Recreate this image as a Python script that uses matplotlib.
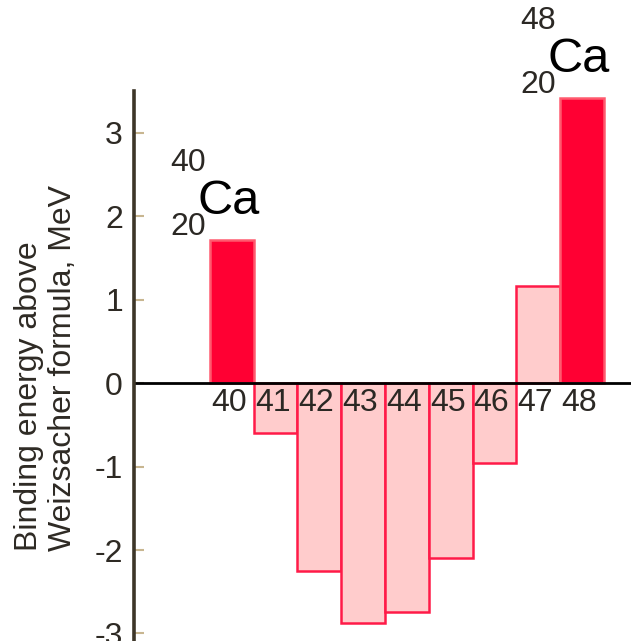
import numpy as np
from matplotlib import pyplot as plt

plt.rcParams['font.family'] = ['Liberation Sans', 'DejaVu Sans']

# mass numbers of the calcium isotopes and their extra binding energy (MeV)
mass_numbers = [40, 41, 42, 43, 44, 45, 46, 47, 48]
extra_binding = [1.72, -0.60, -2.25, -2.88, -2.74, -2.09, -0.96, 1.16, 3.42]
magic = [True, False, False, False, False, False, False, False, True]
y_ticks = [3, 2, 1, 0, -1, -2, -3]
y_tick_labels = ['3', '2', '1', '0', '-1', '-2', '-3']

W, H = 631, 641
fig = plt.figure(figsize=(W / 100, H / 100), dpi=100)
ax = fig.add_axes([134 / W, 0, (W - 134) / W, 550 / H])

red = '#ff0033'
pink = '#ffcccc'

fill = [red if m else pink for m in magic]
edge = ['#ff5a6e' if m else '#ff1a48' for m in magic]
ax.bar(mass_numbers, extra_binding, width=1.0, color=fill, edgecolor=edge,
       linewidth=1.8, zorder=2)

ax.axhline(0, color='black', linewidth=2.0, zorder=3)

ax.set_xlim(37.765, 49.12)
ax.set_ylim(-3.09, 3.50)

# only the vertical axis is drawn
for side in ['top', 'right', 'bottom']:
    ax.spines[side].set_visible(False)
ax.spines['left'].set_color('#3d3629')
ax.spines['left'].set_linewidth(2.6)
ax.spines['left'].set_zorder(4)

ax.set_xticks([])
ax.set_yticks(y_ticks)
ax.set_yticklabels(y_tick_labels)
ax.tick_params(axis='y', direction='in', length=7.5, width=1.5,
               color='#c8b690', labelsize=23, labelcolor='#2e2a24', pad=8)

# mass numbers written just under the zero line
for a in mass_numbers:
    ax.annotate(str(a), xy=(a, 0), xytext=(-3, -20), textcoords='offset pixels',
                ha='center', va='center', fontsize=23, color='#2b2824', zorder=5)

# isotope symbols over the two doubly-magic nuclei
for a, v, m in zip(mass_numbers, extra_binding, magic):
    if not m:
        continue
    ax.annotate(str(a), xy=(a, v), xytext=(-26, 77), textcoords='offset pixels',
                ha='right', va='center', fontsize=23, color='#2b2824')
    ax.annotate('20', xy=(a, v), xytext=(-26, 13), textcoords='offset pixels',
                ha='right', va='center', fontsize=23, color='#2b2824')
    ax.annotate('Ca', xy=(a, v), xytext=(-34, 26), textcoords='offset pixels',
                ha='left', va='baseline', fontsize=35, color='black')

fig.text(46 / W, 90 / H, 'Binding energy above\nWeizsacher formula, MeV',
         rotation=90, ha='center', va='bottom', multialignment='left',
         fontsize=23, color='#2e2a24', linespacing=1.2)

fig.savefig('out.png', dpi=100)
